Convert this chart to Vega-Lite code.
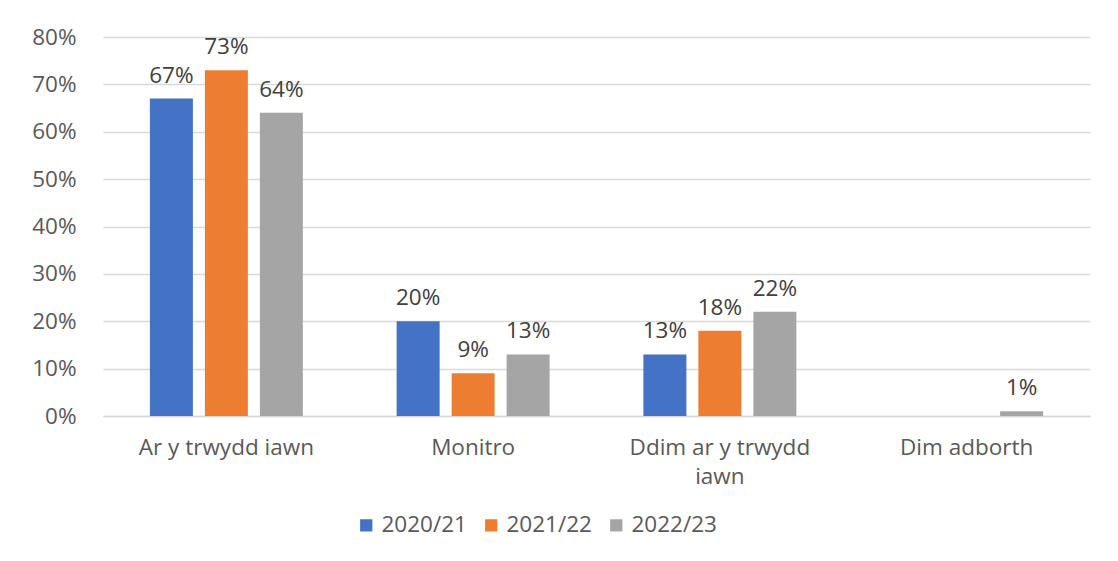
{
  "$schema": "https://vega.github.io/schema/vega-lite/v6.json",
  "width": 987,
  "height": 379,
  "autosize": {"type": "none"},
  "padding": {"left": 103, "top": 37, "right": 28, "bottom": 145},
  "background": "white",
  "config": {
    "view": {"stroke": null},
    "font": "Open Sans"
  },
  "data": {
    "values": [
      {"category": "Ar y trwydd iawn", "year": "2020/21", "value": 0.67},
      {"category": "Ar y trwydd iawn", "year": "2021/22", "value": 0.73},
      {"category": "Ar y trwydd iawn", "year": "2022/23", "value": 0.64},
      {"category": "Monitro", "year": "2020/21", "value": 0.20},
      {"category": "Monitro", "year": "2021/22", "value": 0.09},
      {"category": "Monitro", "year": "2022/23", "value": 0.13},
      {"category": "Ddim ar y trwydd iawn", "year": "2020/21", "value": 0.13},
      {"category": "Ddim ar y trwydd iawn", "year": "2021/22", "value": 0.18},
      {"category": "Ddim ar y trwydd iawn", "year": "2022/23", "value": 0.22},
      {"category": "Dim adborth", "year": "2022/23", "value": 0.01}
    ]
  },
  "encoding": {
    "x": {
      "field": "category", "type": "nominal", "sort": null, "title": null,
      "scale": {"paddingInner": 0.38, "paddingOuter": 0.19},
      "axis": {
        "labelAngle": 0, "labelFontSize": 22.5, "labelColor": "#595959",
        "labelPadding": 20, "ticks": false, "domainColor": "#d9d9d9", "domainWidth": 1.5,
        "labelLineHeight": 29, "labelOverlap": false, "labelLimit": 400,
        "labelExpr": "datum.label == 'Ddim ar y trwydd iawn' ? ['Ddim ar y trwydd', 'iawn'] : datum.label"
      }
    },
    "xOffset": {
      "field": "year", "type": "nominal",
      "scale": {"paddingInner": 0.218, "paddingOuter": 0}
    },
    "y": {
      "field": "value", "type": "quantitative", "title": null,
      "scale": {"domain": [0, 0.8]},
      "axis": {
        "format": ".0%", "values": [0, 0.1, 0.2, 0.3, 0.4, 0.5, 0.6, 0.7, 0.8],
        "labelOverlap": false,
        "labelFontSize": 22.5, "labelColor": "#595959", "labelPadding": 27,
        "ticks": false, "domain": false, "gridColor": "#d9d9d9", "gridWidth": 1.5
      }
    }
  },
  "layer": [
    {
      "mark": {"type": "bar"},
      "encoding": {
        "color": {
          "field": "year", "type": "nominal", "title": null,
          "scale": {"domain": ["2020/21", "2021/22", "2022/23"], "range": ["#4472C4", "#ED7D31", "#A5A5A5"]},
          "legend": {
            "orient": "none", "legendX": 252, "legendY": 477, "direction": "horizontal",
            "symbolType": "square", "symbolSize": 150, "symbolStrokeWidth": 0,
            "labelFontSize": 22.5, "labelColor": "#595959", "columnPadding": 13, "labelOffset": 4,
            "labelLimit": 300
          }
        }
      }
    },
    {
      "mark": {"type": "text", "baseline": "alphabetic", "dy": -16, "fontSize": 22.5, "color": "#404040"},
      "encoding": {
        "text": {"field": "value", "type": "quantitative", "format": ".0%"}
      }
    }
  ]
}
